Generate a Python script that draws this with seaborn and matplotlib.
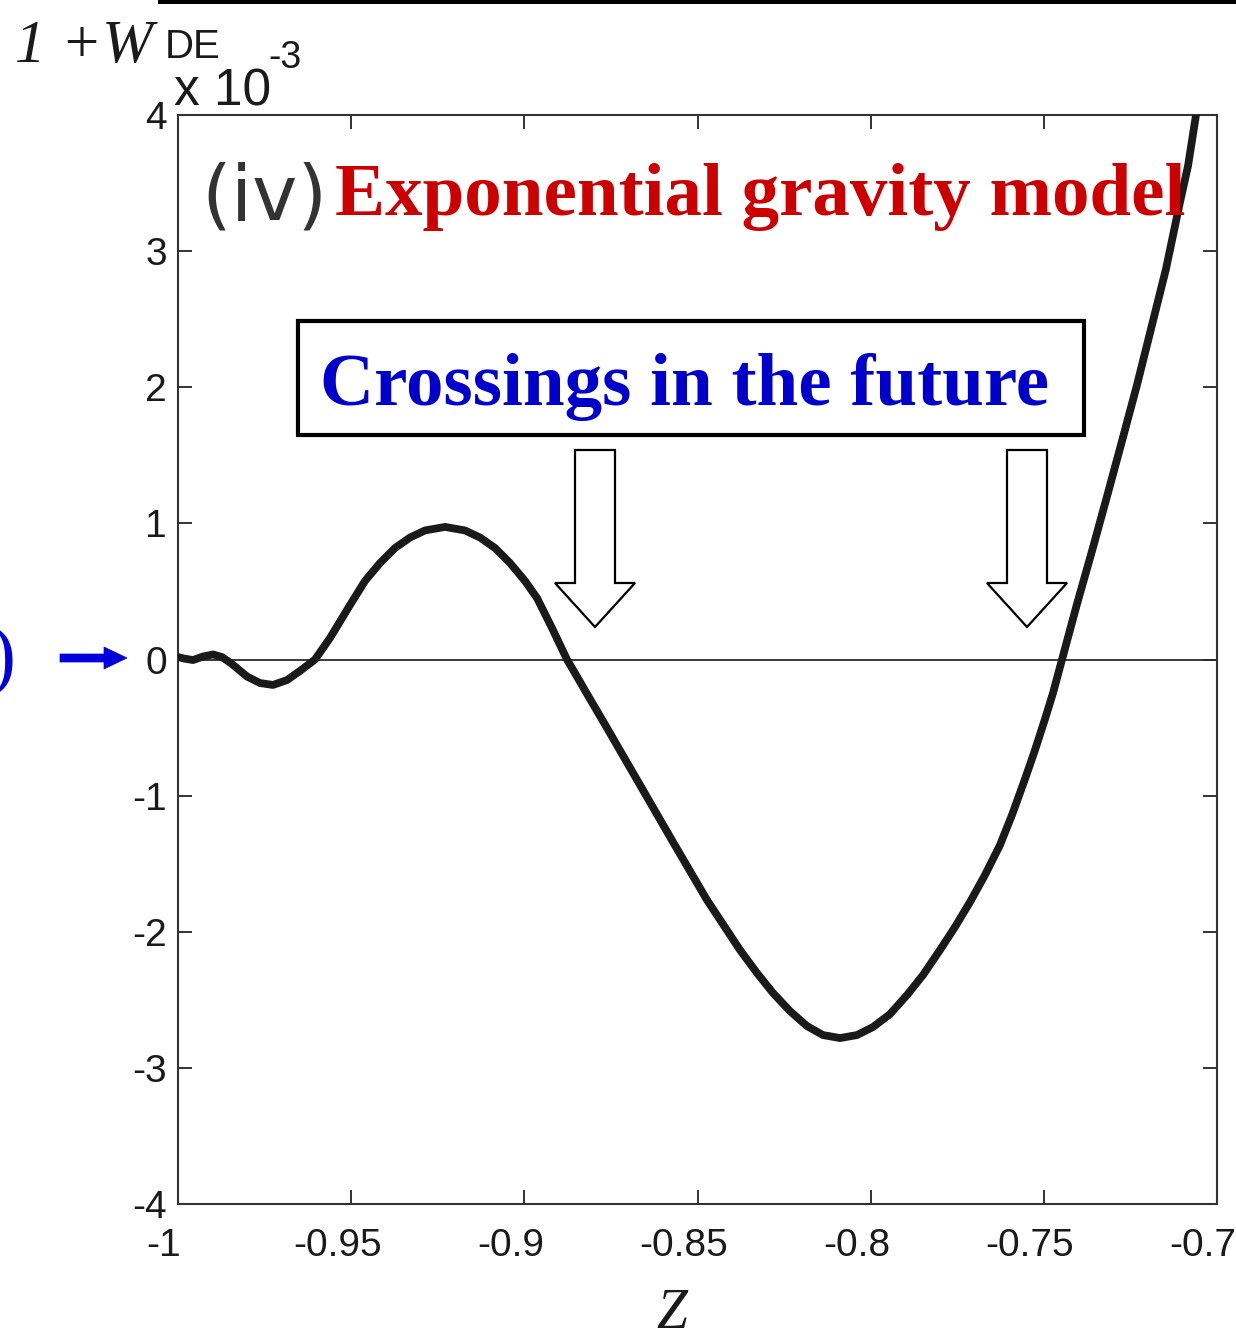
import matplotlib
matplotlib.use("Agg")
import matplotlib.pyplot as plt
import matplotlib.transforms as mtransforms
from matplotlib.patches import Polygon, Rectangle
import seaborn as sns
import pandas as pd

# 1 + w_DE (in units of 1e-3) against redshift z for the exponential gravity model
z_vals = [-1.00000, -0.99827, -0.99567, -0.99278, -0.98989, -0.98730, -0.98441,
          -0.98008, -0.97632, -0.97257, -0.96853, -0.96477, -0.96044, -0.95611,
          -0.95034, -0.94601, -0.94167, -0.93734, -0.93301, -0.92868, -0.92291,
          -0.91713, -0.91280, -0.90847, -0.90414, -0.89981, -0.89634, -0.89201,
          -0.88768, -0.88104, -0.87613, -0.86660, -0.85707, -0.84726, -0.83773,
          -0.83282, -0.82820, -0.82329, -0.81838, -0.81376, -0.80885, -0.80395,
          -0.79933, -0.79442, -0.78951, -0.78489, -0.77998, -0.77565, -0.77132,
          -0.76699, -0.76266, -0.75919, -0.75544, -0.75255, -0.74966, -0.74735,
          -0.74475, -0.74042, -0.73609, -0.73176, -0.72743, -0.72310, -0.71906,
          -0.71473, -0.71068, -0.70837, -0.70606]
w_vals = [0.018, 0.007, -0.004, 0.022, 0.037, 0.018, -0.033,
          -0.125, -0.173, -0.187, -0.151, -0.084, 0.000, 0.158,
          0.400, 0.577, 0.709, 0.819, 0.896, 0.948, 0.974,
          0.948, 0.896, 0.819, 0.709, 0.577, 0.452, 0.231,
          0.000, -0.290, -0.503, -0.922, -1.341, -1.767, -2.134,
          -2.303, -2.450, -2.583, -2.693, -2.759, -2.781, -2.759,
          -2.700, -2.605, -2.465, -2.318, -2.134, -1.965, -1.782,
          -1.583, -1.363, -1.142, -0.878, -0.665, -0.437, -0.246,
          0.000, 0.408, 0.797, 1.198, 1.605, 2.017, 2.428,
          2.869, 3.361, 3.626, 4.000]

xtick_vals = [-1.0, -0.95, -0.9, -0.85, -0.8, -0.75, -0.7]
xtick_labels = ["-1", "-0.95", "-0.9", "-0.85", "-0.8", "-0.75", "-0.7"]
ytick_vals = [-4, -3, -2, -1, 0, 1, 2, 3, 4]
ytick_labels = ["-4", "-3", "-2", "-1", "0", "1", "2", "3", "4"]

title_text = "Exponential gravity model"
panel_text = "(iv)"
note_text = "Crossings in the future"

sns.set_theme(style="ticks")
plt.rcParams["axes.unicode_minus"] = False
plt.rcParams["font.family"] = ["Liberation Sans", "DejaVu Sans"]

W, H = 1236, 1338
fig = plt.figure(figsize=(W / 100, H / 100), dpi=100)
fig.patch.set_facecolor("white")


def fx(px):
    return px / W


def fy(py):
    return 1 - py / H


ax_l, ax_r, ax_t, ax_b = 178, 1217, 115, 1204
ax = fig.add_axes([fx(ax_l), fy(ax_b), fx(ax_r) - fx(ax_l), fy(ax_t) - fy(ax_b)])
ax.set_facecolor("white")

df = pd.DataFrame({"z": z_vals, "w": w_vals})
ax.axhline(0, color="#2b2b2b", lw=1.3, zorder=1)
sns.lineplot(data=df, x="z", y="w", sort=False, color="#1a1a1a", lw=5.6,
             ax=ax, zorder=3, solid_joinstyle="round", solid_capstyle="round")

ax.set_xlim(-1.0, -0.7)
ax.set_ylim(-4, 4)
ax.set_xticks(xtick_vals)
ax.set_xticklabels(xtick_labels)
ax.set_yticks(ytick_vals)
ax.set_yticklabels(ytick_labels)
ax.set_xlabel("")
ax.set_ylabel("")

for s in ax.spines.values():
    s.set_color("#333333")
    s.set_linewidth(1.5)
    s.set_visible(True)
ax.tick_params(axis="both", direction="in", length=10, width=1.4, color="#333333",
               top=True, right=True, labelsize=28, labelcolor="#1a1a1a")
ax.tick_params(axis="y", pad=8)
ax.tick_params(axis="x", pad=17)
shift = mtransforms.ScaledTranslation(-14 / 100, 0, fig.dpi_scale_trans)
for lab in ax.get_xticklabels():
    lab.set_transform(lab.get_transform() + shift)

serif = ["Liberation Serif", "DejaVu Serif"]
sans = ["Liberation Sans", "DejaVu Sans"]

# black rule across the top
fig.patches.append(Rectangle((fx(158), fy(4)), fx(1236) - fx(158), fy(0) - fy(4),
                             transform=fig.transFigure, facecolor="black",
                             edgecolor="none"))

# axis label 1 + w_DE and the x 10^-3 multiplier
fig.text(fx(15), fy(62), "1 +W", family=serif, style="italic", fontsize=44,
         color="#1a1a1a", va="baseline", ha="left")
fig.text(fx(165), fy(58), "DE", family=sans, fontsize=29, color="#1a1a1a",
         va="baseline", ha="left")
fig.text(fx(174), fy(105), "x 10", family=sans, fontsize=37, color="#1a1a1a",
         va="baseline", ha="left")
fig.text(fx(268), fy(68), "-3", family=sans, fontsize=27, color="#1a1a1a",
         va="baseline", ha="left")
fig.text(fx(672), fy(1328), "Z", family=serif, style="italic", fontsize=40,
         color="#1a1a1a", va="baseline", ha="center")

# panel tag and model title
fig.text(fx(201), fy(220), panel_text, family=["DejaVu Sans"], fontsize=55,
         color="#333333", va="baseline", ha="left")
fig.text(fx(335), fy(215), title_text, family=serif, weight="bold", fontsize=54,
         color="#cc0000", va="baseline", ha="left")

# boxed note with two hollow arrows
fig.patches.append(Rectangle((fx(298), fy(435)), fx(1084) - fx(298), fy(321) - fy(435),
                             transform=fig.transFigure, facecolor="white",
                             edgecolor="black", lw=3, zorder=5))
fig.text(fx(685), fy(405), note_text, family=serif, weight="bold", fontsize=54,
         color="#0000cc", va="baseline", ha="center", zorder=6)


def hollow_arrow(cx):
    pts = [(cx - 20, 450), (cx + 20, 450), (cx + 20, 583), (cx + 40, 583),
           (cx, 627), (cx - 40, 583), (cx - 20, 583)]
    fig.patches.append(Polygon([(fx(a), fy(b)) for a, b in pts], closed=True,
                               transform=fig.transFigure, facecolor="white",
                               edgecolor="black", lw=1.6, zorder=5))


hollow_arrow(595)
hollow_arrow(1027)

# blue pointer to the zero level
blue = "#0000dd"
pts = [(60, 654), (104, 654), (104, 647), (127, 658), (104, 669), (104, 662), (60, 662)]
fig.patches.append(Polygon([(fx(a), fy(b)) for a, b in pts], closed=True,
                           transform=fig.transFigure, facecolor=blue,
                           edgecolor=blue, lw=0.5))
fig.text(fx(15), fy(680), ")", family=serif, fontsize=56, color=blue,
         va="baseline", ha="right")

fig.savefig("out.png", dpi=100, facecolor="white")
